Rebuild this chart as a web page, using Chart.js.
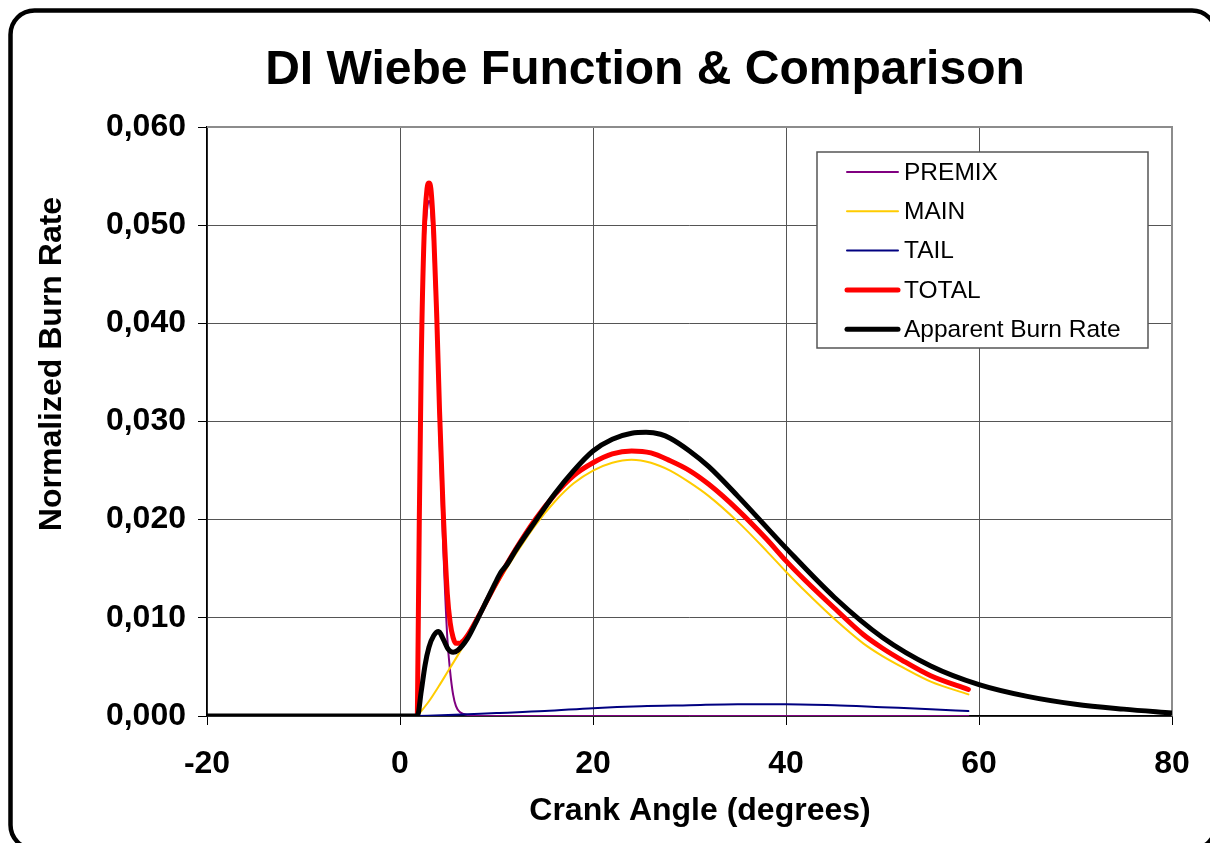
<!DOCTYPE html>
<html><head><meta charset="utf-8">
<script src="https://cdn.jsdelivr.net/npm/chart.js@4/dist/chart.umd.min.js"></script>
<style>html,body{margin:0;padding:0;background:#fff;}#wrap{position:relative;width:1210px;height:843px;overflow:hidden}</style>
</head><body><div id="wrap"><canvas id="c" width="1210" height="843"></canvas></div>
<script>
// ---- Data ----
const premixX = [1.8, 1.9, 2.0, 2.2, 2.5, 2.8, 3.0, 3.2, 3.5, 3.8, 4.1, 4.45, 4.9, 5.2, 5.5, 5.8, 6.2, 6.6, 7.0, 8, 10, 20, 30, 40, 50, 58.9];
const premixY = [0, 0.0098, 0.0195, 0.0350, 0.0470, 0.0515, 0.0525, 0.0517, 0.0467, 0.0385, 0.0282, 0.0180, 0.0080, 0.0045, 0.0022, 0.0010, 0.0004, 0.0002, 0.0001, 0, 0, 0, 0, 0, 0, 0];

const mainX = [1.8, 3, 4, 5, 6, 7, 8, 10, 12, 14, 16, 18, 20, 22, 24, 26, 28, 30, 32, 35, 38, 40, 42, 45, 48, 50, 52, 55, 58.9];
const mainY = [0, 0.0015, 0.0030, 0.0046, 0.0062, 0.0079, 0.0097, 0.0133, 0.0165, 0.0194, 0.0218, 0.0237, 0.0250, 0.0258, 0.0261, 0.0258, 0.0250, 0.0238, 0.0224, 0.0198, 0.0168, 0.0147, 0.0127, 0.0099, 0.0074, 0.0061, 0.0050, 0.0035, 0.0022];

const tailX = [1.8, 5, 10, 15, 20, 25, 30, 35, 40, 45, 50, 55, 58.9];
const tailY = [0, 0.0001, 0.0003, 0.0005, 0.0008, 0.0010, 0.0011, 0.0012, 0.0012, 0.0011, 0.0009, 0.0007, 0.0005];

const totalX = [1.8, 1.9, 2.0, 2.2, 2.5, 2.8, 3.0, 3.2, 3.5, 3.8, 4.1, 4.45, 4.9, 5.2, 5.5, 5.8, 6.2, 6.6, 7, 8, 10, 12, 14, 16, 18, 20, 22, 24, 26, 28, 30, 32, 35, 38, 40, 42, 45, 48, 50, 52, 55, 58.9];
const totalY = [0, 0.0100, 0.0200, 0.0360, 0.0490, 0.0537, 0.0543, 0.0537, 0.0490, 0.0410, 0.0310, 0.0215, 0.0125, 0.0095, 0.0080, 0.0074, 0.0074, 0.0077, 0.0082, 0.0099, 0.0136, 0.0170, 0.0200, 0.0225, 0.0245, 0.0258, 0.0267, 0.0270, 0.0268, 0.0260, 0.0250, 0.0236, 0.0210, 0.0180, 0.0158, 0.0138, 0.0110, 0.0083, 0.0069, 0.0057, 0.0041, 0.0027];

const apparentX = [-20, 1.6, 1.8, 2.2, 2.6, 3.0, 3.5, 4.0, 4.5, 5.0, 5.5, 6.0, 7, 8, 9, 10, 10.5, 11, 12, 14, 16, 18, 20, 22, 24, 25.5, 27, 28, 30, 32, 35, 40, 45, 50, 55, 60, 65, 70, 75, 80];
const apparentY = [0, 0, 0, 0.0025, 0.0052, 0.0070, 0.0082, 0.0086, 0.0078, 0.0068, 0.0065, 0.0067, 0.0079, 0.0098, 0.0118, 0.0138, 0.0147, 0.0153, 0.0169, 0.0198, 0.0226, 0.0250, 0.0270, 0.0282, 0.0288, 0.0289, 0.0287, 0.0283, 0.0270, 0.0254, 0.0224, 0.0171, 0.0121, 0.0080, 0.0051, 0.0032, 0.0020, 0.0012, 0.0007, 0.0003];

const seriesNames = ['PREMIX', 'MAIN', 'TAIL', 'TOTAL', 'Apparent Burn Rate'];
const xTicks = [-20, 0, 20, 40, 60, 80];
const yTicks = [0, 0.01, 0.02, 0.03, 0.04, 0.05, 0.06];

const toPts = (xs, ys) => xs.map((x, i) => ({x: x, y: ys[i]}));

const FONT = "'Liberation Sans', Arial, sans-serif";
const PLOT = {left: 207, top: 127, right: 1172, bottom: 716};

const frame = {
  id: 'frame',
  beforeDraw(chart) {
    const ctx = chart.ctx;
    ctx.save();
    ctx.fillStyle = '#fff';
    ctx.fillRect(0, 0, chart.width, chart.height);
    ctx.lineWidth = 4.5;
    ctx.strokeStyle = '#000';
    ctx.beginPath();
    ctx.roundRect(10.5, 10.5, 1205.5, 838.5, 24);
    ctx.stroke();
    ctx.restore();
  },
  beforeDatasetsDraw(chart) {
    const ctx = chart.ctx, a = chart.chartArea;
    ctx.save();
    ctx.strokeStyle = '#8c8c8c';
    ctx.lineWidth = 2;
    ctx.beginPath();
    ctx.moveTo(a.left, a.top);
    ctx.lineTo(a.right, a.top);
    ctx.lineTo(a.right, a.bottom);
    ctx.stroke();
    ctx.restore();
  },
  afterDraw(chart) {
    const ctx = chart.ctx;
    ctx.save();
    ctx.fillStyle = '#000';
    ctx.textAlign = 'center';
    ctx.textBaseline = 'alphabetic';
    ctx.font = 'bold 48px ' + FONT;
    ctx.fillText('DI Wiebe Function & Comparison', 645, 84);
    ctx.font = 'bold 32px ' + FONT;
    ctx.textBaseline = 'middle';
    ctx.fillText('Crank Angle (degrees)', 700, 811);
    ctx.translate(52, 364);
    ctx.rotate(-Math.PI / 2);
    ctx.fillText('Normalized Burn Rate', 0, 0);
    ctx.restore();

    // legend
    ctx.save();
    const bx = 817, by = 152, bw = 331, bh = 196;
    ctx.fillStyle = '#fff';
    ctx.fillRect(bx, by, bw, bh);
    ctx.strokeStyle = '#555';
    ctx.lineWidth = 1.5;
    ctx.strokeRect(bx, by, bw, bh);
    const ds = chart.data.datasets;
    ctx.font = '24.5px ' + FONT;
    ctx.textAlign = 'left';
    ctx.textBaseline = 'middle';
    ds.forEach((d, i) => {
      const y = 172 + i * 39.3;
      ctx.strokeStyle = d.borderColor;
      ctx.lineWidth = d.borderWidth;
      ctx.lineCap = 'round';
      ctx.beginPath();
      ctx.moveTo(847, y);
      ctx.lineTo(898, y);
      ctx.stroke();
      ctx.fillStyle = '#000';
      ctx.fillText(d.label, 904, y + 1);
    });
    ctx.restore();
  }
};

const mk = (label, pts, color, width, order) => ({
  label: label, data: pts, borderColor: color, backgroundColor: color,
  borderWidth: width, pointRadius: 0, fill: false, order: order,
  cubicInterpolationMode: 'monotone', borderJoinStyle: 'round', borderCapStyle: 'round'
});

new Chart(document.getElementById('c'), {
  type: 'line',
  data: {
    datasets: [
      mk(seriesNames[0], toPts(premixX, premixY), '#800080', 2, 5),
      mk(seriesNames[1], toPts(mainX, mainY), '#FFCC00', 2, 4),
      mk(seriesNames[2], toPts(tailX, tailY), '#000080', 2, 3),
      mk(seriesNames[3], toPts(totalX, totalY), '#FF0000', 5, 2),
      mk(seriesNames[4], toPts(apparentX, apparentY), '#000000', 5, 1)
    ]
  },
  options: {
    responsive: false,
    animation: false,
    events: [],
    layout: {padding: {left: 0, top: PLOT.top, right: 1210 - PLOT.right, bottom: 0}},
    plugins: {legend: {display: false}, title: {display: false}, tooltip: {enabled: false}},
    scales: {
      x: {
        type: 'linear', min: -20, max: 80,
        afterFit(s) { s.height = 843 - PLOT.bottom; },
        afterBuildTicks(s) { s.ticks = xTicks.map(v => ({value: v})); },
        grid: {color: '#555', lineWidth: 1, tickLength: 9, tickColor: '#000', drawOnChartArea: true},
        border: {color: '#000', width: 1.5},
        ticks: {font: {family: FONT, size: 32, weight: 'bold'}, color: '#000', padding: 20, maxRotation: 0,
          callback: v => String(v)}
      },
      y: {
        type: 'linear', min: 0, max: 0.06,
        afterFit(s) { s.width = PLOT.left; },
        afterBuildTicks(s) { s.ticks = yTicks.map(v => ({value: v})); },
        grid: {color: '#555', lineWidth: 1, tickLength: 9, tickColor: '#000'},
        border: {color: '#000', width: 1.5},
        ticks: {font: {family: FONT, size: 32, weight: 'bold'}, color: '#000', padding: 12,
          callback: v => v.toFixed(3).replace('.', ',')}
      }
    }
  },
  plugins: [frame]
});
</script></body></html>
